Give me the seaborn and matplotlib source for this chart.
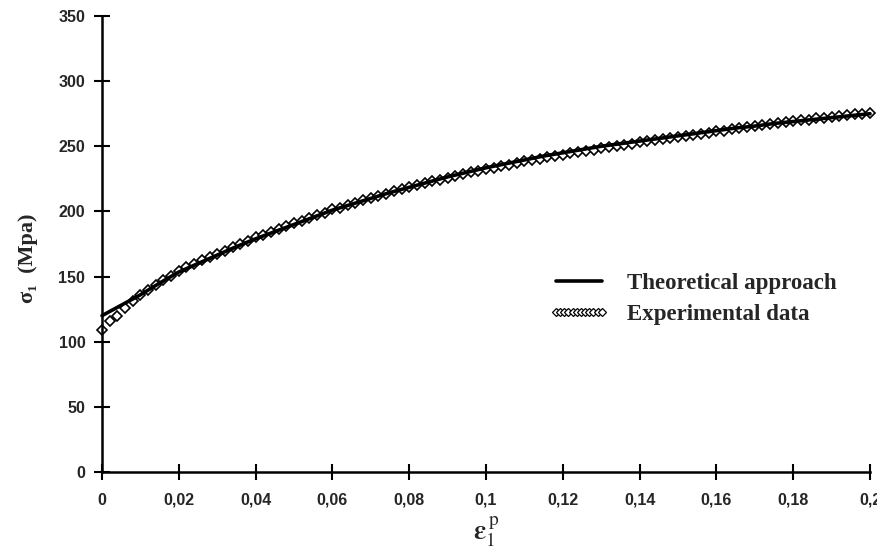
import matplotlib
matplotlib.use("Agg")
import matplotlib.pyplot as plt
import seaborn as sns
import pandas as pd
from matplotlib.lines import Line2D

# Theoretical approach
x_theory = [0.000, 0.005, 0.010, 0.015, 0.020, 0.025, 0.030, 0.035, 0.040, 0.045,
            0.050, 0.055, 0.060, 0.065, 0.070, 0.075, 0.080, 0.085, 0.090, 0.095,
            0.100, 0.105, 0.110, 0.115, 0.120, 0.125, 0.130, 0.135, 0.140, 0.145,
            0.150, 0.155, 0.160, 0.165, 0.170, 0.175, 0.180, 0.185, 0.190, 0.195, 0.200]
y_theory = [120, 128, 136, 145, 153.5, 160, 166.5, 173, 179, 184.5,
            190, 195.5, 201, 205.5, 210, 214.5, 218.5, 222.5, 226.5, 230,
            233.5, 236.5, 239.5, 242.5, 245, 247.5, 250, 252, 254, 256,
            258, 260, 262, 264, 265.5, 267.5, 269, 270.5, 272, 273.5, 275]

# Experimental data
x_exp = [0.000, 0.002, 0.004, 0.006, 0.008, 0.010, 0.012, 0.014, 0.016, 0.018,
         0.020, 0.022, 0.024, 0.026, 0.028, 0.030, 0.032, 0.034, 0.036, 0.038,
         0.040, 0.042, 0.044, 0.046, 0.048, 0.050, 0.052, 0.054, 0.056, 0.058,
         0.060, 0.062, 0.064, 0.066, 0.068, 0.070, 0.072, 0.074, 0.076, 0.078,
         0.080, 0.082, 0.084, 0.086, 0.088, 0.090, 0.092, 0.094, 0.096, 0.098,
         0.100, 0.102, 0.104, 0.106, 0.108, 0.110, 0.112, 0.114, 0.116, 0.118,
         0.120, 0.122, 0.124, 0.126, 0.128, 0.130, 0.132, 0.134, 0.136, 0.138,
         0.140, 0.142, 0.144, 0.146, 0.148, 0.150, 0.152, 0.154, 0.156, 0.158,
         0.160, 0.162, 0.164, 0.166, 0.168, 0.170, 0.172, 0.174, 0.176, 0.178,
         0.180, 0.182, 0.184, 0.186, 0.188, 0.190, 0.192, 0.194, 0.196, 0.198, 0.200]
y_exp = [109, 116, 120, 126, 131, 136, 140, 143.5, 147, 150.5,
         154, 157, 159.5, 162.5, 165, 167.5, 170, 172.5, 175, 177.5,
         180, 182, 184.5, 186.5, 188.5, 191, 193, 195, 197, 199,
         201.5, 203, 205, 206.5, 208.5, 210.5, 212, 213.5, 215.5, 217,
         218.5, 220, 221.5, 223, 224.5, 226, 227, 228.5, 230, 231,
         232.5, 233.5, 235, 236, 237, 238.5, 239.5, 240.5, 241.5, 242.5,
         243.5, 244.5, 245.5, 246.5, 247.5, 248.5, 249.5, 250.5, 251, 252,
         253, 254, 254.5, 255.5, 256.5, 257, 258, 259, 259.5, 260.5,
         261.5, 262, 263, 264, 264.5, 265.5, 266.5, 267, 268, 268.5,
         269.5, 270, 270.5, 271.5, 272, 272.5, 273.5, 274, 274.5, 275, 275.5]

x_ticks = [0, 0.02, 0.04, 0.06, 0.08, 0.1, 0.12, 0.14, 0.16, 0.18, 0.2]
x_ticklabels = ["0", "0,02", "0,04", "0,06", "0,08", "0,1", "0,12", "0,14", "0,16", "0,18", "0,2"]
y_ticks = [0, 50, 100, 150, 200, 250, 300, 350]

sns.set_theme(style="white")
plt.rcParams['font.family'] = ['Liberation Sans', 'DejaVu Sans']
plt.rcParams['mathtext.fontset'] = 'stix'

fig = plt.figure(figsize=(8.78, 5.58), dpi=100)
ax = fig.add_axes([102/878, 1 - 472/558, (870 - 102)/878, (472 - 16)/558])

df_exp = pd.DataFrame({"x": x_exp, "y": y_exp})
df_th = pd.DataFrame({"x": x_theory, "y": y_theory})

sns.lineplot(data=df_exp, x="x", y="y", ax=ax, linestyle="none", marker="D",
             markersize=5.5, markerfacecolor="white", markeredgecolor="black",
             markeredgewidth=1.2, sort=False)
sns.lineplot(data=df_th, x="x", y="y", ax=ax, color="black", linewidth=2.6, sort=False)

ax.set_xlim(0, 0.2)
ax.set_ylim(0, 350)
ax.set_xticks(x_ticks)
ax.set_xticklabels(x_ticklabels)
ax.set_yticks(y_ticks)
for lab in ax.get_xticklabels() + ax.get_yticklabels():
    lab.set_fontweight("bold")
    lab.set_fontsize(11.5)

for s in ["top", "right"]:
    ax.spines[s].set_visible(False)
for s in ["left", "bottom"]:
    ax.spines[s].set_color("black")
    ax.spines[s].set_linewidth(1.8)
ax.tick_params(axis="both", direction="inout", length=12, width=1.5, color="black",
               left=True, bottom=True)
ax.tick_params(axis="x", pad=9)
ax.tick_params(axis="y", pad=6)
ax.grid(False)
ax.set_facecolor("white")
ax.set_xlabel("")
ax.set_ylabel("")
ax.margins(0)
for l in ax.get_lines():
    l.set_clip_on(False)

serif = ['Liberation Serif', 'DejaVu Serif']
fig.text(28/878, 1 - 258/558, "σ\u2081  (Mpa)", rotation=90, ha="center",
         va="center", fontsize=16, fontweight="bold", family=serif)
fig.text(486/878, 1 - 532/558, r"$\mathbf{\varepsilon}_{1}^{\,\mathrm{p}}$", ha="center",
         va="center", fontsize=20, family=serif)

handles = [Line2D([], [], color="black", linewidth=2.6),
           Line2D([], [], linestyle="none", marker="D", markersize=4, markerfacecolor="white",
                  markeredgecolor="black", markeredgewidth=0.9)]
leg = ax.legend(handles, ["Theoretical approach", "Experimental data"], frameon=False,
                loc="upper left", bbox_to_anchor=(549/878, 1 - 273/558),
                bbox_transform=fig.transFigure, numpoints=12, handlelength=2.6,
                handletextpad=0.8, labelspacing=0.45, borderpad=0, borderaxespad=0,
                prop={"family": serif, "weight": "bold", "size": 16.5})

fig.savefig("out.png", dpi=100, facecolor="white")
